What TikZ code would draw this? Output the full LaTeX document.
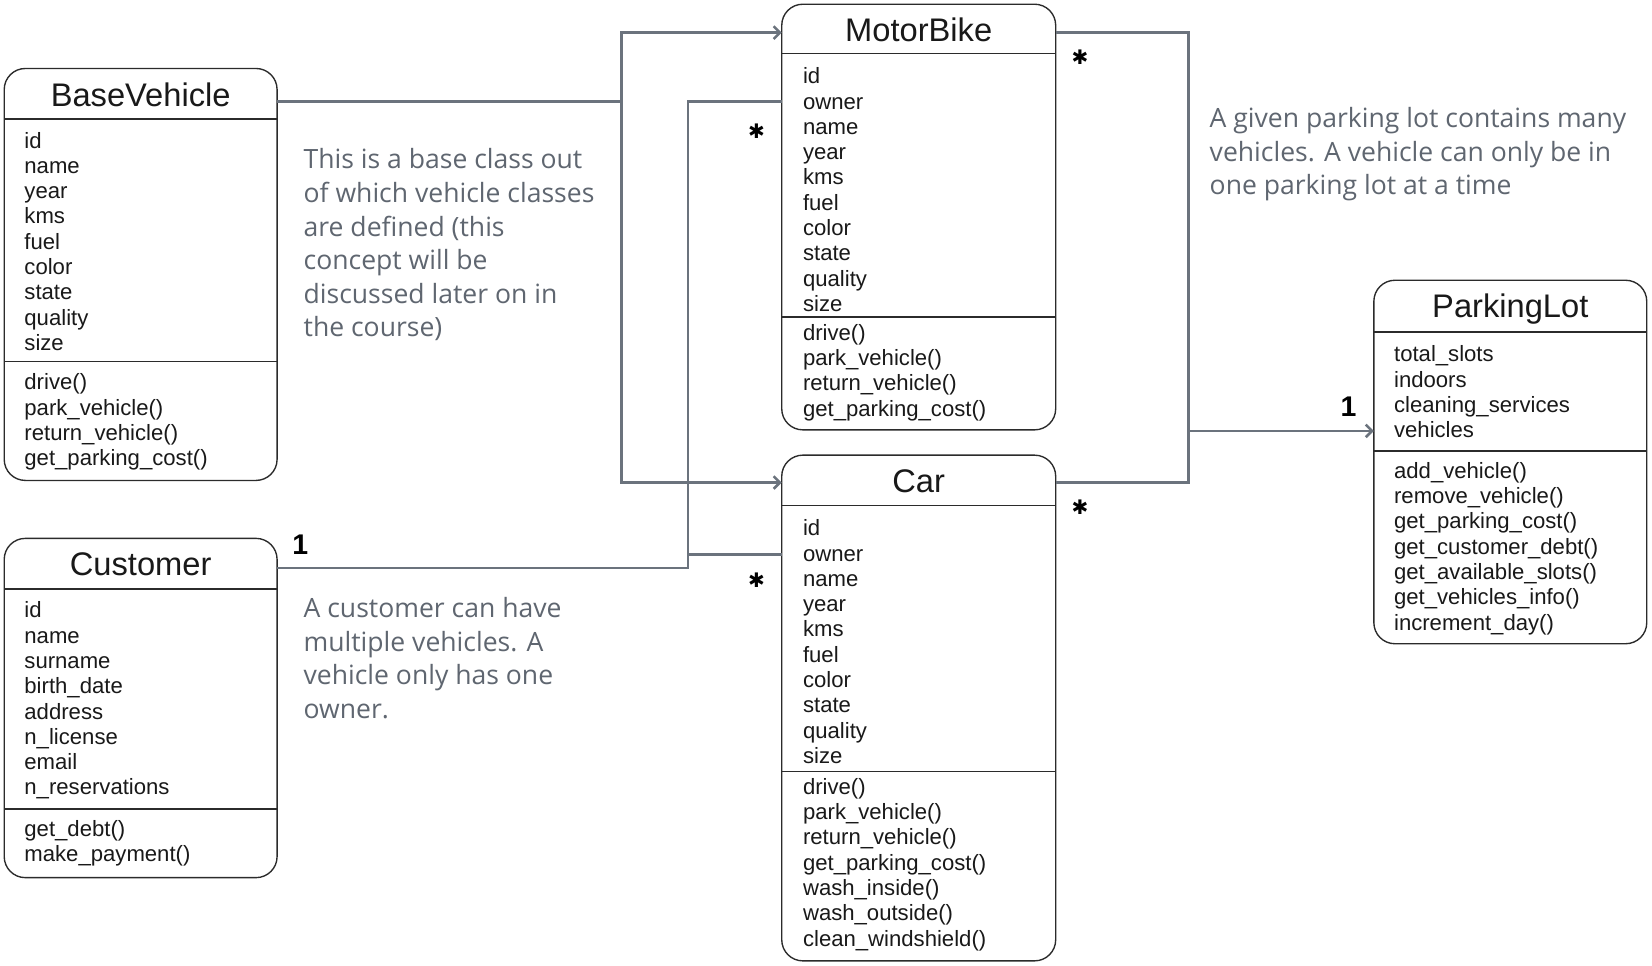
\documentclass[tikz,border=0pt]{standalone}
\usepackage{fontspec}
\setmainfont{Liberation Sans}
\newfontfamily\notefont{Open Sans}
\newfontfamily\symfont{DejaVu Sans}
\usetikzlibrary{arrows.meta}
\definecolor{conncol}{HTML}{6B737D}
\definecolor{notecol}{HTML}{5F6670}
\definecolor{boxcol}{HTML}{2B2B2B}
\begin{document}
\begin{tikzpicture}[x=1pt,y=-1pt,
  cls/.style={draw=boxcol,line width=1.3pt,rounded corners=20pt,anchor=north west,inner sep=0pt,outer sep=0pt},
  divider/.style={draw=boxcol,line width=1.3pt},
  ctitle/.style={font=\fontsize{31}{36}\selectfont,anchor=base,inner sep=0pt,text=black!90},
  attr/.style={font=\fontsize{21}{24}\selectfont,anchor=base west,inner sep=0pt,text=black!90},
  note/.style={font=\notefont\fontsize{25.2}{32}\selectfont,anchor=base west,inner sep=0pt,text=notecol},
  conn/.style={draw=conncol,line width=2.6pt},
  arr/.style={-{Straight Barb[length=6pt,width=12pt,line width=2.4pt]}},
  mult/.style={font=\bfseries\fontsize{27}{30}\selectfont,inner sep=0pt},
  star/.style={font=\symfont\bfseries\fontsize{19}{20}\selectfont,inner sep=0pt}
]
\path[fill=white,use as bounding box] (0,0) rectangle (1568,916);

% ---------- BaseVehicle ----------
\node[cls,minimum width=259pt,minimum height=391pt] (bv) at (4,65) {};
\node[ctitle] (bvt) at (133.5,101) {BaseVehicle};
\draw[divider] (bv.west |- 0,113) -- (bv.east |- 0,113);
\draw[divider] (bv.west |- 0,343) -- (bv.east |- 0,343);
\foreach \t [count=\i] in {id,name,year,kms,fuel,color,state,quality,size}
  \node[attr] (bva\i) at (23,{140.5+24*(\i-1)}) {\t};
\foreach \t [count=\i] in {drive(),park\_vehicle(),return\_vehicle(),get\_parking\_cost()}
  \node[attr] (bvm\i) at (23,{370+24*(\i-1)}) {\t};

% ---------- Customer ----------
\node[cls,minimum width=259pt,minimum height=322pt] (cu) at (4,511) {};
\node[ctitle] (cut) at (133.5,546) {Customer};
\draw[divider] (cu.west |- 0,559) -- (cu.east |- 0,559);
\draw[divider] (cu.west |- 0,768) -- (cu.east |- 0,768);
\foreach \t [count=\i] in {id,name,surname,birth\_date,address,n\_license,email,n\_reservations}
  \node[attr] (cua\i) at (23,{586.5+24*(\i-1)}) {\t};
\foreach \t [count=\i] in {get\_debt(),make\_payment()}
  \node[attr] (cum\i) at (23,{794+24*(\i-1)}) {\t};

% ---------- MotorBike ----------
\node[cls,minimum width=260pt,minimum height=404pt] (mb) at (742,4) {};
\node[ctitle] (mbt) at (872,39) {MotorBike};
\draw[divider] (mb.west |- 0,51) -- (mb.east |- 0,51);
\draw[divider] (mb.west |- 0,301) -- (mb.east |- 0,301);
\foreach \t [count=\i] in {id,owner,name,year,kms,fuel,color,state,quality,size}
  \node[attr] (mba\i) at (762,{79.5+24*(\i-1)}) {\t};
\foreach \t [count=\i] in {drive(),park\_vehicle(),return\_vehicle(),get\_parking\_cost()}
  \node[attr] (mbm\i) at (762,{323+24*(\i-1)}) {\t};

% ---------- Car ----------
\node[cls,minimum width=260pt,minimum height=480pt] (car) at (742,432) {};
\node[ctitle] (cart) at (872,467) {Car};
\draw[divider] (car.west |- 0,480) -- (car.east |- 0,480);
\draw[divider] (car.west |- 0,732) -- (car.east |- 0,732);
\foreach \t [count=\i] in {id,owner,name,year,kms,fuel,color,state,quality,size}
  \node[attr] (cara\i) at (762,{508.5+24*(\i-1)}) {\t};
\foreach \t [count=\i] in {drive(),park\_vehicle(),return\_vehicle(),get\_parking\_cost(),wash\_inside(),wash\_outside(),clean\_windshield()}
  \node[attr] (carm\i) at (762,{754+24*(\i-1)}) {\t};

% ---------- ParkingLot ----------
\node[cls,minimum width=259pt,minimum height=345pt] (pl) at (1304,266) {};
\node[ctitle] (plt) at (1433.5,301) {ParkingLot};
\draw[divider] (pl.west |- 0,315) -- (pl.east |- 0,315);
\draw[divider] (pl.west |- 0,428) -- (pl.east |- 0,428);
\foreach \t [count=\i] in {total\_slots,indoors,cleaning\_services,vehicles}
  \node[attr] (pla\i) at (1323,{343.5+24*(\i-1)}) {\t};
\foreach \t [count=\i] in {add\_vehicle(),remove\_vehicle(),get\_parking\_cost(),get\_customer\_debt(),get\_available\_slots(),get\_vehicles\_info(),increment\_day()}
  \node[attr] (plm\i) at (1323,{454+24*(\i-1)}) {\t};

% ---------- Notes ----------
\node[note] (n1a) at (288,160) {This is a base class out};
\node[note] (n1b) at (288,192) {of which vehicle classes};
\node[note] (n1c) at (288,224) {are defined (this};
\node[note] (n1d) at (288,256) {concept will be};
\node[note] (n1e) at (288,288) {discussed later on in};
\node[note] (n1f) at (288,319) {the course)};
\node[note] (n2a) at (288,586) {A customer can have};
\node[note] (n2b) at (288,618) {multiple vehicles. A};
\node[note] (n2c) at (288,650) {vehicle only has one};
\node[note] (n2d) at (288,682) {owner.};
\node[note] (n3a) at (1148,121) {A given parking lot contains many};
\node[note] (n3b) at (1148,153) {vehicles. A vehicle can only be in};
\node[note] (n3c) at (1148,185) {one parking lot at a time};

% ---------- Connectors ----------
\coordinate (jbv) at (590,96);
\coordinate (jbvt) at (590,31);
\coordinate (jbvb) at (590,458);
\draw[conn] (bv.east |- jbv) -- (jbv);
\draw[conn,arr] (jbv) -- (jbvt) -- (mb.west |- jbvt);
\draw[conn,arr] (jbv) -- (jbvb) -- (car.west |- jbvb);

\coordinate (jc) at (653,539);
\coordinate (jct) at (653,96);
\coordinate (jcc) at (653,526);
\draw[conn] (cu.east |- jc) -- (jc) -- (jct) -- (mb.west |- jct);
\draw[conn] (jcc) -- (car.west |- jcc);

\coordinate (jr1) at (1128,31);
\coordinate (jr2) at (1128,458);
\coordinate (jrp) at (1128,409);
\draw[conn] (mb.east |- jr1) -- (jr1) -- (jr2) -- (car.east |- jr2);
\draw[conn,arr] (jrp) -- (pl.west |- jrp);

% ---------- Multiplicities ----------
\node[mult] (m1) at (285,517) {1};
\node[mult] (m2) at (1280,386) {1};
\node[star] (s1) at (718,125) {✱};
\node[star] (s2) at (718,551) {✱};
\node[star] (s3) at (1025,54) {✱};
\node[star] (s4) at (1025,481) {✱};
\end{tikzpicture}
\end{document}
